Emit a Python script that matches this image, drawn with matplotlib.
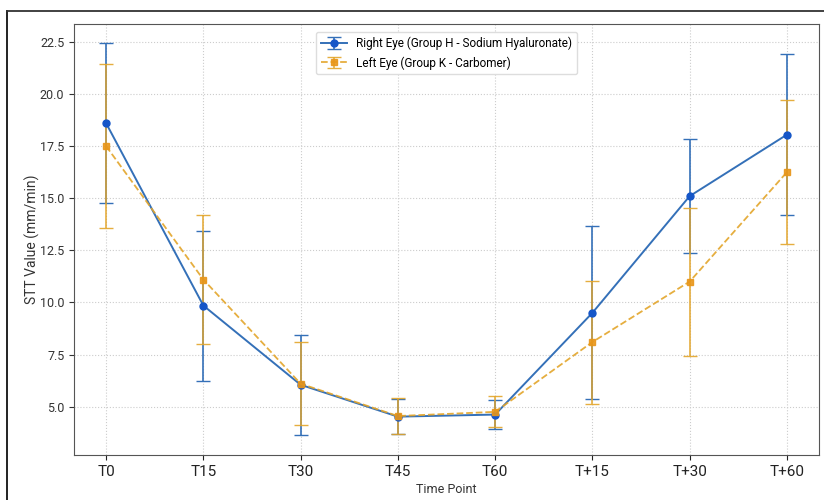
import numpy as np
import matplotlib
matplotlib.use("Agg")
import matplotlib.pyplot as plt
from matplotlib.lines import Line2D

plt.rcParams['font.family'] = ['Roboto', 'DejaVu Sans']

## Data
time_points = ["T0", "T15", "T30", "T45", "T60", "T+15", "T+30", "T+60"]
right_mean = [18.6, 9.85, 6.05, 4.52, 4.62, 9.5, 15.1, 18.05]
right_sd = [3.85, 3.6, 2.4, 0.85, 0.7, 4.15, 2.75, 3.85]
left_mean = [17.5, 11.1, 6.1, 4.55, 4.75, 8.1, 11.0, 16.25]
left_sd = [3.95, 3.1, 2.0, 0.85, 0.75, 2.95, 3.55, 3.45]

blue = '#3470b8'
orange = '#e3a52a'

fig = plt.figure(figsize=(8.24, 5.0), dpi=100)
ax = fig.add_axes([74/824, 1-455/500, (819-74)/824, (455-24)/500])

x = np.arange(len(time_points))
ax.errorbar(x, right_mean, yerr=right_sd, fmt='-o', color=blue, mfc='#1556c8', mec='#1556c8',
            ms=5, lw=1.4, capsize=5, elinewidth=1.2, ecolor=blue,
            label='Right Eye (Group H - Sodium Hyaluronate)')
ax.errorbar(x, left_mean, yerr=left_sd, fmt='--s', color=orange, mfc='#e8961a', mec='#e8961a',
            ms=5, lw=1.3, capsize=5, elinewidth=1.2, ecolor=orange, alpha=0.9,
            label='Left Eye (Group K - Carbomer)')

ax.set_xticks(x)
ax.set_xticklabels(time_points, fontsize=11)
ax.set_xlim(-0.33, 7.33)
ax.set_ylim(2.68, 23.36)
ax.set_yticks([5.0, 7.5, 10.0, 12.5, 15.0, 17.5, 20.0, 22.5])
ax.tick_params(axis='y', labelsize=9, colors='#333333')
ax.tick_params(axis='x', colors='#222222')
ax.grid(True, linestyle=':', color='#cccccc', linewidth=0.8)
for s in ax.spines.values():
    s.set_color('#555555')

ax.set_ylabel('STT Value (mm/min)', fontsize=10, color='#333333')
ax.yaxis.set_label_coords(-0.046, 0.5)
ax.set_xlabel('Time Point', fontsize=9, color='#333333', labelpad=0)
ax.xaxis.set_label_coords(0.5, -0.065)

ax.legend(loc='upper center', fontsize=8.5, frameon=True, framealpha=1,
          edgecolor='#dddddd', bbox_to_anchor=(0.5, 0.995), handlelength=2.2)

# outer frame lines of the screenshot
fig.add_artist(Line2D([7/824, 7/824], [0, 1-11/500], color='#111111', lw=1.3, transform=fig.transFigure))
fig.add_artist(Line2D([7/824, 1], [1-11/500, 1-11/500], color='#333333', lw=1.3, transform=fig.transFigure))

fig.savefig('out.png', dpi=100)
